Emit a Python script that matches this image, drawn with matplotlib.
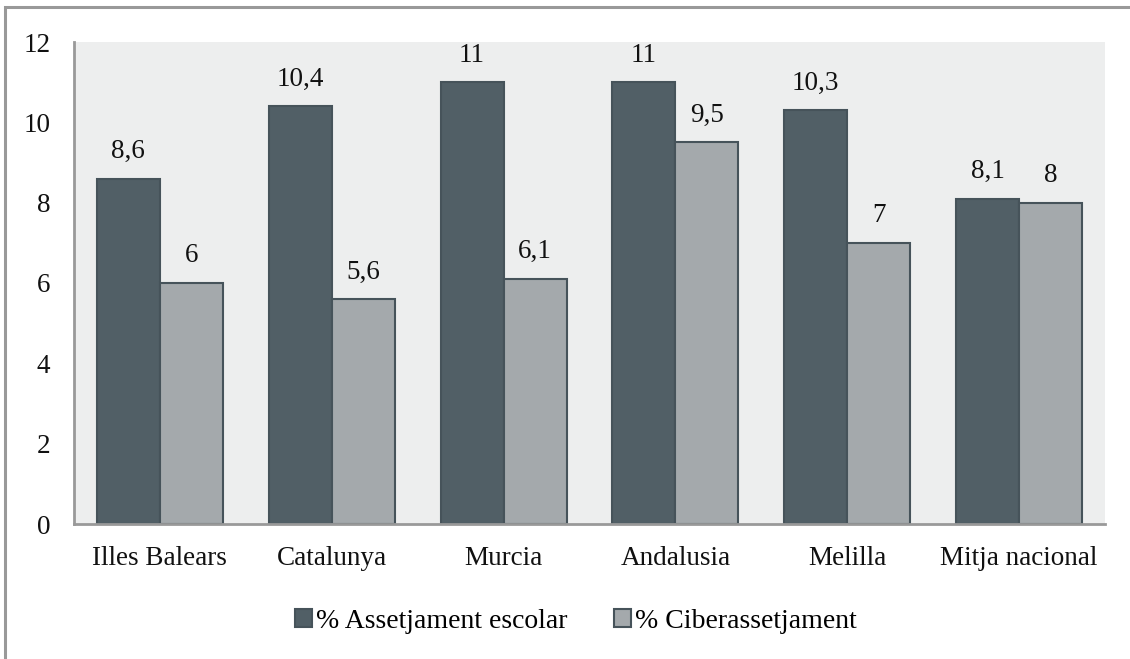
import matplotlib
matplotlib.use("Agg")
import matplotlib.pyplot as plt
from matplotlib.patches import Rectangle
import numpy as np

categories = ["Illes Balears", "Catalunya", "Murcia", "Andalusia", "Melilla", "Mitja nacional"]
assetjament = [8.6, 10.4, 11, 11, 10.3, 8.1]
ciber = [6, 5.6, 6.1, 9.5, 7, 8]
series_names = ["% Assetjament escolar", "% Ciberassetjament"]
yticks = [0, 2, 4, 6, 8, 10, 12]

plt.rcParams['font.family'] = ['Liberation Serif', 'DejaVu Serif']

fig = plt.figure(figsize=(11.3, 6.59), dpi=100)
W, H = 1130, 659
fs = 19.5
# outer border (top and left visible)
fig.patches.append(Rectangle((5/W, -0.1), 1.2, 1 - 7/H + 0.1, transform=fig.transFigure,
                             fill=False, edgecolor='#999999', linewidth=2.2))

ax = fig.add_axes([74/W, 1 - 524/H, (1105-74)/W, (524-42)/H])
ax.set_facecolor('#edeeee')
x = np.arange(len(categories))
bw = 0.367
dark = '#515f66'
light = '#a4a9ac'
edge = '#46535a'
b1 = ax.bar(x - bw/2, assetjament, bw, color=dark, edgecolor=edge, linewidth=1.5, label=series_names[0])
b2 = ax.bar(x + bw/2, ciber, bw, color=light, edgecolor=edge, linewidth=1.5, label=series_names[1])

for rects, vals in ((b1, assetjament), (b2, ciber)):
    for r, v in zip(rects, vals):
        ax.annotate(f"{v:g}".replace('.', ','), (r.get_x() + r.get_width()/2, v),
                    xytext=(0, 10.5), textcoords='offset points', ha='center', va='bottom',
                    fontsize=fs, color='#111111')

ax.set_xlim(-0.5, len(categories) - 0.5)
ax.set_ylim(0, 12)
ax.set_yticks(yticks)
ax.set_yticklabels([str(t) for t in yticks])
ax.set_xticks(x)
ax.set_xticklabels(categories)
ax.tick_params(axis='both', length=0, labelsize=fs, colors='#111111')
ax.tick_params(axis='y', pad=17)
ax.tick_params(axis='x', pad=16)
for s in ['top', 'right']:
    ax.spines[s].set_visible(False)
for s in ['left', 'bottom']:
    ax.spines[s].set_color('#999999')
    ax.spines[s].set_linewidth(2)

leg = fig.legend(handles=[b1, b2], labels=series_names, loc='center', bbox_to_anchor=(576/W, 1 - 621/H),
                 ncol=2, frameon=False, fontsize=20, handlelength=0.6, handleheight=0.6,
                 handletextpad=0.15, columnspacing=1.7)

fig.savefig("out.png", dpi=100)
